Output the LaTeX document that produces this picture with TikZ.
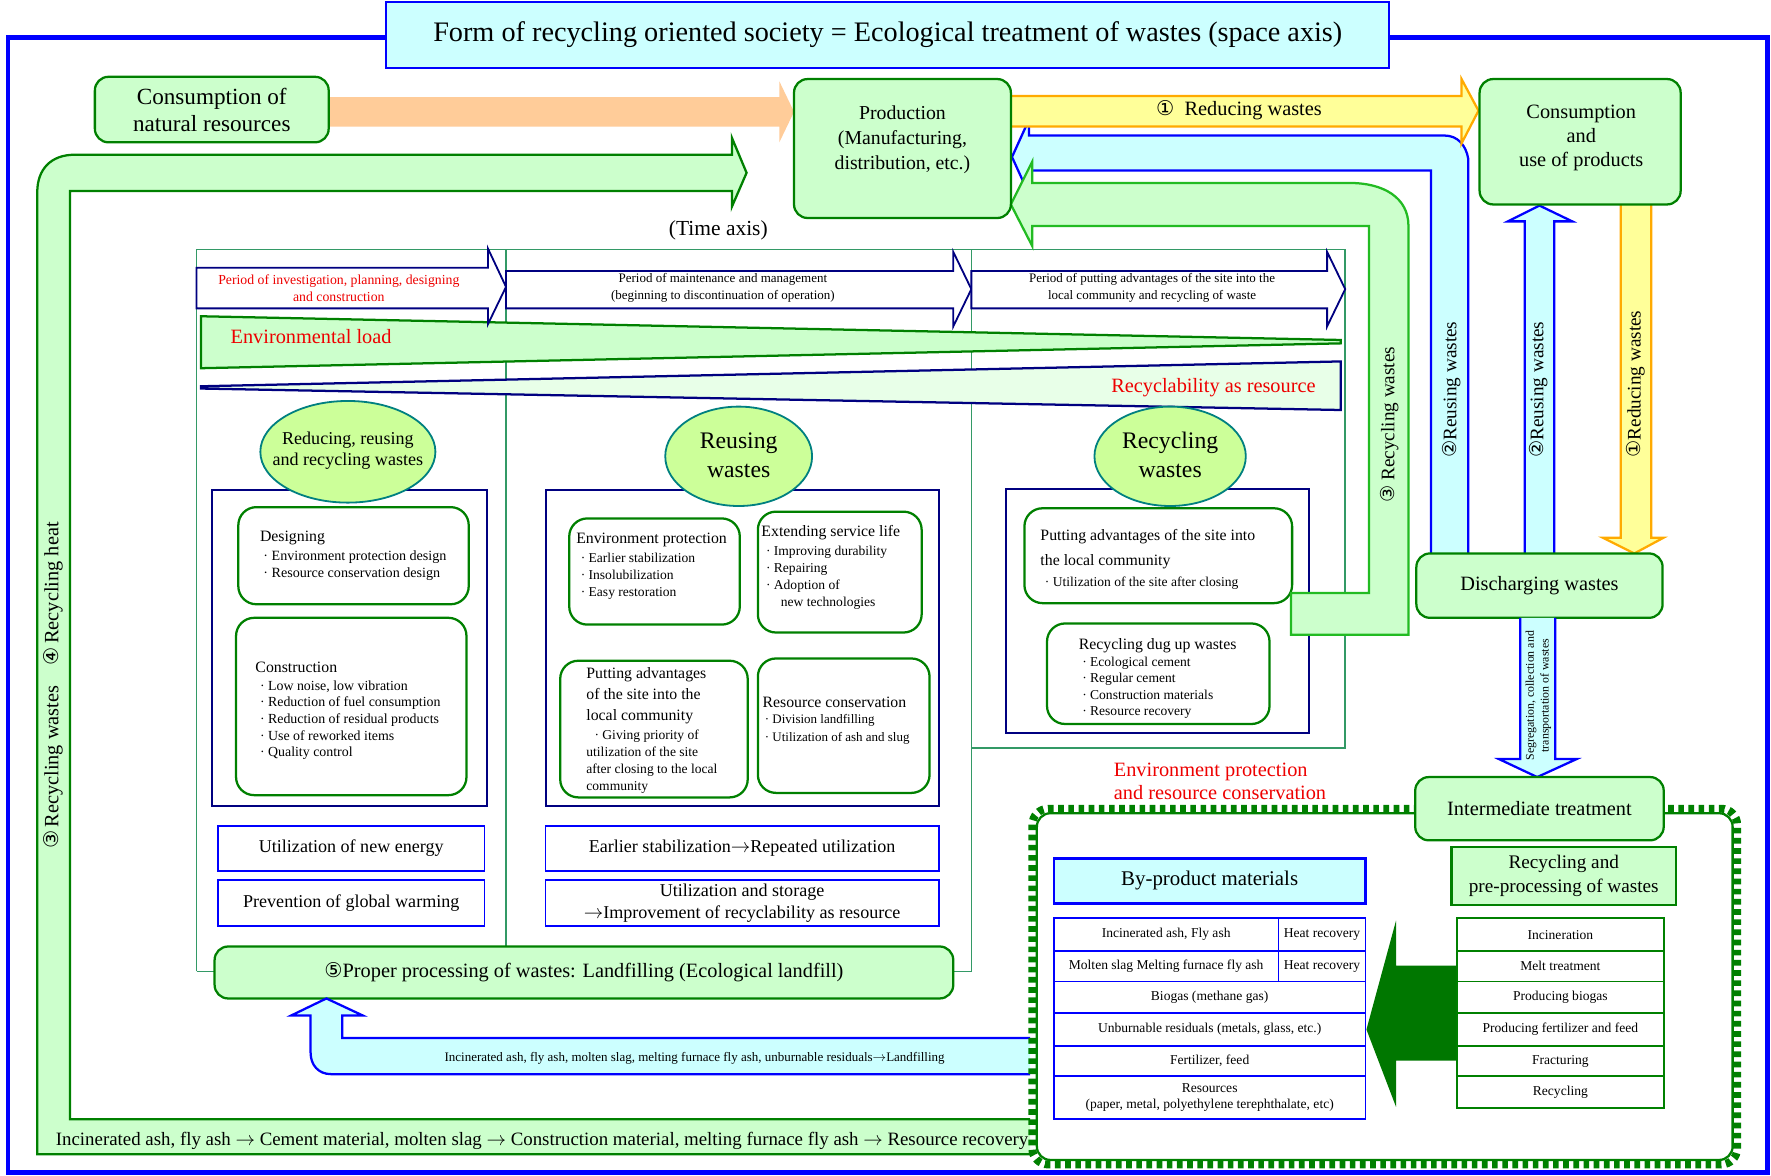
\documentclass[tikz,border=0pt]{standalone}
\usepackage{fontspec}
\setmainfont{Liberation Serif}
\newfontfamily\dv{DejaVu Sans}
\usetikzlibrary{shapes.geometric,decorations.pathmorphing}
\definecolor{dgreen}{HTML}{008000}
\definecolor{lgreen}{HTML}{CCFFCC}
\definecolor{navy}{HTML}{000080}
\definecolor{lcyan}{HTML}{CCFFFF}
\definecolor{tealf}{HTML}{339966}
\definecolor{lime}{HTML}{CCFF99}
\definecolor{bubb}{HTML}{008080}
\definecolor{lyellow}{HTML}{FFFF99}
\definecolor{orng}{HTML}{FFAA00}
\definecolor{peach}{HTML}{FFCC99}
\definecolor{bgreen}{HTML}{22BB22}
\definecolor{vlgreen}{HTML}{E8FFE8}
\definecolor{arrgreen}{HTML}{007700}
\definecolor{redt}{HTML}{EE0000}
\newcommand{\fz}[2]{\fontsize{#1}{#2}\selectfont}
\newcommand{\cn}[1]{{\dv #1}}
\newcommand{\bx}[7]{\node[#1, minimum width={(#4)-(#2)}, minimum height={(#5)-(#3)}] (#6) at ({((#2)+(#4))/2},{((#3)+(#5))/2}) {#7};}
\begin{document}
\begin{tikzpicture}[x=1pt,y=-1pt,
  gbox/.style={draw=dgreen, line width=2, fill=lgreen, rounded corners=12, align=center, inner sep=0},
  wbox/.style={draw=dgreen, line width=2, fill=white, rounded corners=16, inner sep=0},
  nbox/.style={draw=navy, line width=1.8, fill=white, inner sep=0},
  bbox/.style={draw=blue, line width=1.6, fill=white, align=center, inner sep=0, font=\fz{16}{19}},
  tcell/.style={draw=blue, line width=1.6, fill=white, align=center, inner sep=0, font=\fz{12}{14}},
  pcell/.style={draw=dgreen, line width=1.6, fill=white, align=center, inner sep=0, font=\fz{12}{14}},
  bub/.style={ellipse, draw=bubb, line width=1.6, fill=lime, inner sep=0},
  period/.style={draw=navy, line width=1.6, fill=white},
  ltxt/.style={anchor=west, align=left, inner sep=0},
  vtxt/.style={rotate=90, font=\fz{17}{20}, inner sep=0}]
\useasboundingbox (0,0) rectangle (1568,1041);
\fill[white] (0,0) rectangle (1568,1041);

% outer frame
\draw[blue, line width=4] (342,33) -- (7,33) -- (7,1038) -- (1565,1038) -- (1565,33) -- (1230,33);
\bx{draw=blue, line width=2, fill=lcyan, inner sep=0, font=\fz{25}{29}}{342}{2}{1230}{60}{title}{Form of recycling oriented society = Ecological treatment of wastes (space axis)}

% left big green return arrow
\draw[draw=dgreen, line width=2, fill=lgreen] (912,991) -- (62,991) -- (62,169) -- (648,169) -- (648,183) -- (661,153) -- (648,122) -- (648,137) -- (66,137) .. controls (45,137) and (33,150) .. (33,170) -- (33,1022) -- (912,1022);
\node[vtxt, font=\fz{18}{22}] (lefttxt) at (47,607) {\cn{③}\,Recycling wastes\quad \cn{④}\,Recycling heat};
\node[inner sep=0, font=\fz{16.7}{19}] (bottxt) at (480,1010) {Incinerated ash, fly ash $\rightarrow$ Cement material, molten slag $\rightarrow$ Construction material, melting furnace fly ash $\rightarrow$ Resource recovery};

% natural resources arrow
\fill[peach] (291,86) -- (690,86) -- (690,72) -- (703,99) -- (690,126) -- (690,112) -- (291,112) -- cycle;
\bx{gbox, font=\fz{20.5}{24}}{84}{68}{291}{126}{cnr}{Consumption of\\natural resources}

% time axis frame
\node[font=\fz{19}{22}, inner sep=0] (taxis) at (636,204) {(Time axis)};
\draw[tealf, line width=1.5] (174,860) -- (174,221) -- (1191,221) -- (1191,662) -- (860,662);
\draw[tealf, line width=1.5] (174,860) -- (192,860);
\draw[tealf, line width=1.5] (843,860) -- (860,860) -- (860,221);
\draw[tealf, line width=1.5] (448,221) -- (448,838);

% wedges
\draw[dgreen, line width=2, fill=lgreen] (178,280) -- (1187,301) -- (1187,304) -- (178,326) -- cycle;
\node[ltxt, text=redt, font=\fz{18}{20}] (envload) at (204,298) {Environmental load};
\draw[navy, line width=2, fill=vlgreen] (178,342) -- (1187,320) -- (1187,363) -- (178,344) -- cycle;
\node[anchor=east, inner sep=0, text=redt, font=\fz{18}{20}] (recyc) at (1165,343) {Recyclability as resource};

% period arrows
\draw[period] (174,237) -- (432,237) -- (432,220) -- (448,254) -- (432,287) -- (432,273) -- (174,273) -- cycle;
\draw[period] (448,240) -- (844,240) -- (844,223) -- (860,256) -- (844,289) -- (844,273) -- (448,273) -- cycle;
\draw[period] (860,240) -- (1175,240) -- (1175,223) -- (1191,256) -- (1175,289) -- (1175,273) -- (860,273) -- cycle;
\node[align=center, inner sep=0, text=redt, font=\fz{12.2}{15}] (p1) at (300,255) {Period of investigation, planning, designing\\and construction};
\node[align=center, inner sep=0, font=\fz{11.5}{15}] (p2) at (640,255) {Period of maintenance and management\\(beginning to discontinuation of operation)};
\node[align=center, inner sep=0, font=\fz{11.5}{15}] (p3) at (1020,255) {Period of putting advantages of the site into the\\local community and recycling of waste};

% navy boxes
\bx{nbox}{188}{434}{431}{714}{nb1}{}
\bx{nbox}{483}{434}{831}{714}{nb2}{}
\bx{nbox}{891}{433}{1159}{649}{nb3}{}

% bubbles
\node[bub, minimum width=155, minimum height=90] (bub1) at (308,400) {};
\node[align=center, inner sep=0, font=\fz{16}{19}] (bub1t) at (308,399) {Reducing, reusing\\and recycling wastes};
\node[bub, minimum width=130, minimum height=88] (bub2) at (654,404) {};
\node[align=center, inner sep=0, font=\fz{21}{26}] (bub2t) at (654,403) {Reusing\\wastes};
\node[bub, minimum width=134, minimum height=88] (bub3) at (1036,404) {};
\node[align=center, inner sep=0, font=\fz{21}{26}] (bub3t) at (1036,403) {Recycling\\wastes};

% left column boxes
\bx{wbox}{211}{449}{415}{535}{des}{}
\node[ltxt, font=\fz{14}{16}] (dest) at (230,476) {Designing};
\node[ltxt, font=\fz{12.5}{15}] (desb) at (233,500.5) {· Environment protection design\\· Resource conservation design};
\bx{wbox}{209}{547}{413}{704}{con}{}
\node[ltxt, font=\fz{14}{16}] (cont) at (226,591) {Construction};
\node[ltxt, font=\fz{12.3}{14.75}] (conb) at (230,637.5) {· Low noise, low vibration\\· Reduction of fuel consumption\\· Reduction of residual products\\· Use of reworked items\\· Quality control};

% middle column boxes
\bx{wbox}{504}{459}{655}{553}{envp}{}
\node[ltxt, font=\fz{14}{16}] (envpt) at (510,478) {Environment protection};
\node[ltxt, font=\fz{12}{15}] (envpb) at (514,510) {· Earlier stabilization\\· Insolubilization\\· Easy restoration};
\bx{wbox}{671}{453}{816}{560}{ext}{}
\node[ltxt, font=\fz{14}{16}] (extt) at (674,472) {Extending service life};
\node[ltxt, font=\fz{12}{15}] (extb) at (678,511.5) {· Improving durability\\· Repairing\\· Adoption of\\\hspace*{1.1em}new technologies};
\bx{wbox}{496}{585}{662}{706}{put}{}
\node[ltxt, font=\fz{14}{18.5}] (putt) at (519,616) {Putting advantages\\of the site into the\\local community};
\node[ltxt, font=\fz{12}{15}] (putb) at (519,674.5) {\hspace*{0.6em}· Giving priority of\\utilization of the site\\after closing to the local\\community};
\bx{wbox}{671}{583}{823}{702}{res}{}
\node[ltxt, font=\fz{14}{16}] (rest) at (675,622) {Resource conservation};
\node[ltxt, font=\fz{11.5}{16}] (resb) at (677,646) {· Division landfilling\\· Utilization of ash and slug};

% right column boxes
\bx{wbox}{907}{450}{1144}{534}{adv}{}
\node[ltxt, font=\fz{14}{22}] (advt) at (921,486) {Putting advantages of the site into\\the local community};
\node[ltxt, font=\fz{12}{14}] (advb) at (925,516) {· Utilization of the site after closing};
\bx{wbox}{927}{552}{1124}{641}{dug}{}
\node[ltxt, font=\fz{14}{16}] (dugt) at (955,572) {Recycling dug up wastes};
\node[ltxt, font=\fz{12}{14.4}] (dugb) at (958,609) {· Ecological cement\\· Regular cement\\· Construction materials\\· Resource recovery};

% blue boxes
\bx{bbox}{193}{731}{429}{771}{ue}{Utilization of new energy}
\bx{bbox}{193}{779}{429}{820}{pg}{Prevention of global warming}
\bx{bbox}{483}{731}{831}{771}{es}{Earlier stabilization$\rightarrow$Repeated utilization}
\bx{bbox}{483}{779}{831}{820}{us}{Utilization and storage\\$\rightarrow$Improvement of recyclability as resource}

% landfill
\bx{gbox, font=\fz{18}{22}}{190}{838}{844}{884}{lf}{\cn{⑤}Proper processing of wastes: Landfilling (Ecological landfill)}
\draw[blue, line width=2, fill=lcyan] (912,919) -- (303,919) -- (303,899) -- (321,899) -- (289,884) -- (258,899) -- (275,899) -- (275,932) .. controls (275,943) and (282,951) .. (293,951) -- (912,951);
\node[inner sep=0, font=\fz{11.5}{14}] (lft) at (615,937) {Incinerated ash, fly ash, molten slag, melting furnace fly ash, unburnable residuals$\rightarrow$Landfilling};

% right side arrows
\draw[blue, line width=2, fill=lcyan] (1300,490) -- (1300,141) .. controls (1298,128) and (1290,120) .. (1279,120) -- (911,120) -- (911,106) -- (896,139) -- (911,172) -- (911,151) -- (1267,151) -- (1267,490);
\draw[bgreen, line width=2, fill=lgreen] (1143,525) -- (1212,525) -- (1212,200) -- (914,200) -- (914,218) -- (895,181) -- (914,143) -- (914,162) -- (1195,162) .. controls (1225,162) and (1247,175) .. (1247,200) -- (1247,562) -- (1143,562) -- cycle;
\draw[orng, line width=2, fill=lyellow] (896,85) -- (1294,85) -- (1294,70) -- (1309,98) -- (1294,127) -- (1294,112) -- (896,112);
\node[inner sep=0, font=\fz{18}{22}] (redt1) at (1097,98) {\cn{①}\ \ Reducing wastes};
\draw[orng, line width=2, fill=lyellow] (1435,181) -- (1435,476) -- (1419,476) -- (1447,490) -- (1473,476) -- (1462,476) -- (1462,181);
\draw[blue, line width=2, fill=lcyan] (1350,490) -- (1350,196) -- (1335,196) -- (1363,182) -- (1392,196) -- (1376,196) -- (1376,490);
\node[vtxt] (v3) at (1230,376) {\cn{③} Recycling wastes};
\node[vtxt] (v2a) at (1285,345) {\cn{②}Reusing wastes};
\node[vtxt] (v2b) at (1362,345) {\cn{②}Reusing wastes};
\node[vtxt] (v1) at (1448,340) {\cn{①}Reducing wastes};

\bx{gbox}{703}{70}{895}{193}{prod}{}
\node[align=center, inner sep=0, font=\fz{17.5}{22}] (prodt) at (799,124) {Production\\(Manufacturing,\\distribution, etc.)};
\bx{gbox}{1310}{70}{1488}{181}{cup}{}
\node[align=center, inner sep=0, font=\fz{18}{21}] (cupt) at (1400,122) {Consumption\\and\\use of products};
\bx{gbox, font=\fz{18}{22}}{1254}{490}{1472}{547}{dis}{Discharging wastes}

% segregation arrow
\draw[blue, line width=2, fill=lcyan] (1346,547) -- (1346,672) -- (1327,672) -- (1361,688) -- (1396,672) -- (1377,672) -- (1377,547);
\node[rotate=90, align=center, inner sep=0, font=\fz{10.5}{13}] (segt) at (1362,616) {Segregation, collection and\\transportation of wastes};

% dashed region
\draw[dgreen, line width=7, dash pattern=on 5pt off 4pt, rounded corners=14] (914,716) rectangle (1538,1031);
\filldraw[draw=dgreen, fill=white, line width=2, rounded corners=12] (918,720) rectangle (1534,1027);
\node[ltxt, text=redt, font=\fz{18}{20}] (eprc) at (986,692) {Environment protection\\and resource conservation};
\bx{gbox, font=\fz{18}{22}}{1253}{688}{1473}{744}{imt}{Intermediate treatment}

\bx{draw=blue, line width=2, fill=lcyan, align=center, inner sep=0, font=\fz{18.5}{22}}{933}{760}{1209}{800}{byp}{By-product materials}
\bx{tcell}{933}{813}{1132}{842}{b1}{Incinerated ash, Fly ash}
\bx{tcell}{1132}{813}{1209}{842}{b1h}{Heat recovery}
\bx{tcell}{933}{842}{1132}{869}{b2}{Molten slag Melting furnace fly ash}
\bx{tcell}{1132}{842}{1209}{869}{b2h}{Heat recovery}
\bx{tcell}{933}{869}{1209}{897}{b3}{Biogas (methane gas)}
\bx{tcell}{933}{897}{1209}{926}{b4}{Unburnable residuals (metals, glass, etc.)}
\bx{tcell}{933}{926}{1209}{953}{b5}{Fertilizer, feed}
\bx{tcell}{933}{953}{1209}{991}{b6}{Resources\\(paper, metal, polyethylene terephthalate, etc)}

\bx{draw=dgreen, line width=2, fill=lgreen, align=center, inner sep=0, font=\fz{17}{21}}{1285}{750}{1484}{801}{rpp}{Recycling and\\pre-processing of wastes}
\bx{pcell}{1290}{813}{1473}{842}{c1}{Incineration}
\bx{pcell}{1290}{842}{1473}{869}{c2}{Melt treatment}
\bx{pcell}{1290}{869}{1473}{897}{c3}{Producing biogas}
\bx{pcell}{1290}{897}{1473}{926}{c4}{Producing fertilizer and feed}
\bx{pcell}{1290}{926}{1473}{953}{c5}{Fracturing}
\bx{pcell}{1290}{953}{1473}{981}{c6}{Recycling}
\fill[arrgreen] (c3.west |- 0,855) -- (1236,855) -- (1236,815) -- (b4.east) -- (1236,980) -- (1236,939) -- (c3.west |- 0,939) -- cycle;
\end{tikzpicture}
\end{document}
